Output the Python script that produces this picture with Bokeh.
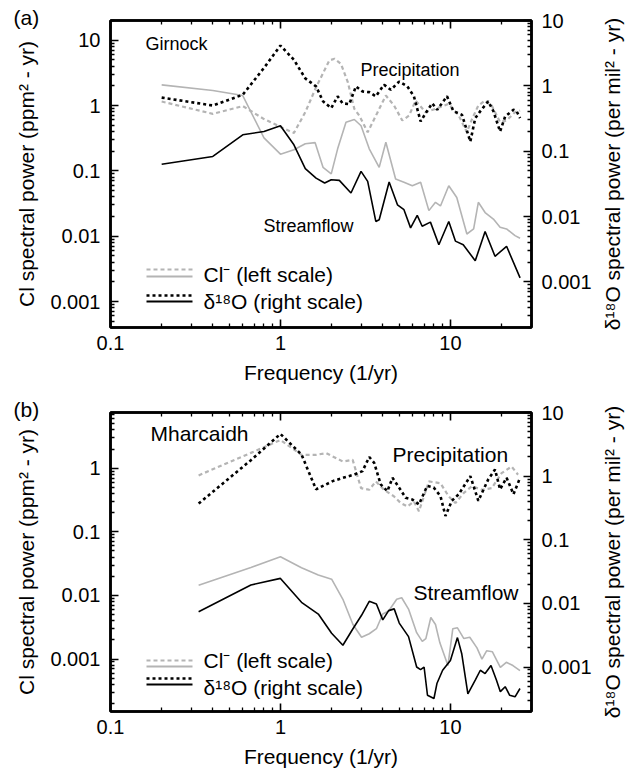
import math
from bokeh.plotting import figure
from bokeh.models import (Range1d, LogAxis, LogScale, FixedTicker, PrintfTickFormatter,
                          Label, Arrow, CustomLabelingPolicy)
from bokeh.layouts import column
from bokeh.embed import file_html
from bokeh.resources import INLINE

# ---------------- data: panel (a) Girnock ----------------
a_cl_precip_f = [0.2, 0.4, 0.6, 0.8, 1.0, 1.2, 1.4, 1.62, 1.94, 2.08, 2.27, 2.49, 2.72, 2.91, 3.26,
                 3.73, 4.17, 4.66, 5.21, 5.71, 6.24, 7.14, 8.17, 9.78, 11.2, 12.5, 13.4, 14.6, 16.0,
                 17.5, 19.6, 21.4, 24.0, 25.7]
a_cl_precip_v = [1.15, 0.745, 0.98, 0.62, 0.47, 0.38, 0.79, 1.9, 4.9, 5.2, 4.35, 2.28, 0.89, 0.70, 0.39,
                 0.79, 1.42, 1.0, 0.59, 0.70, 1.19, 0.79, 0.89, 1.06, 0.70, 0.39, 0.62, 1.0, 1.19,
                 1.0, 0.556, 0.59, 0.79, 0.84]

a_o_precip_f = [0.2, 0.4, 0.6, 0.8, 1.0, 1.2, 1.4, 1.62, 1.78, 1.99, 2.17, 2.32, 2.54, 2.78, 3.04,
                3.33, 3.64, 4.07, 4.46, 4.99, 5.58, 6.10, 6.68, 7.14, 7.81, 8.36, 9.55, 10.4, 11.7,
                13.1, 14.0, 15.0, 16.7, 17.9, 19.6, 21.0, 23.5, 24.5, 25.7]
a_o_precip_v = [0.66, 0.50, 0.73, 1.88, 4.14, 2.5, 1.3, 0.98, 0.58, 0.456, 0.69, 0.54, 0.525, 0.98, 0.82,
                0.80, 0.69, 1.04, 0.87, 1.16, 0.98, 0.69, 0.285, 0.38, 0.54, 0.43, 0.69, 0.41, 0.36,
                0.14, 0.32, 0.41, 0.58, 0.41, 0.20, 0.34, 0.43, 0.41, 0.32]

a_cl_stream_f = [0.2, 0.4, 0.6, 0.8, 1.0, 1.2, 1.4, 1.6, 1.78, 1.99, 2.17, 2.43, 2.72, 2.98, 3.33,
                 3.81, 4.17, 4.76, 5.33, 5.97, 6.68, 7.47, 8.17, 8.74, 9.78, 10.9, 12.5, 13.7, 14.6,
                 16.0, 17.9, 19.6, 21.4, 24.0, 25.7]
a_cl_stream_v = [2.07, 1.7, 1.42, 0.32, 0.18, 0.21, 0.26, 0.27, 0.113, 0.090, 0.217, 0.556, 0.61, 0.49, 0.217,
                 0.113, 0.274, 0.075, 0.067, 0.059, 0.067, 0.0246, 0.033, 0.029, 0.059, 0.039, 0.0108, 0.0129, 0.033,
                 0.023, 0.0183, 0.0137, 0.0129, 0.0102, 0.0093]

a_o_stream_f = [0.2, 0.4, 0.6, 0.8, 1.0, 1.2, 1.4, 1.62, 1.82, 1.99, 2.22, 2.60, 2.98, 3.26, 3.64,
                3.81, 4.36, 4.88, 5.33, 5.83, 6.38, 6.82, 7.63, 8.55, 9.78, 10.7, 11.9, 14.0, 16.0,
                18.3, 21.4, 25.7]
a_o_stream_v = [0.063, 0.083, 0.178, 0.20, 0.245, 0.125, 0.054, 0.0387, 0.0325, 0.0366, 0.0357, 0.0229, 0.049, 0.0345, 0.0084,
                0.0089, 0.0337, 0.0151, 0.0127, 0.0067, 0.0104, 0.0071, 0.0082, 0.0037, 0.0084, 0.0042, 0.0037, 0.0021, 0.0059,
                0.00246, 0.0035, 0.00115]

# ---------------- data: panel (b) Mharcaidh ----------------
b_cl_precip_f = [0.33, 0.67, 1.0, 1.33, 1.62, 1.86, 2.33, 2.66, 2.98, 3.33, 3.64, 4.07, 4.66, 5.10,
                 5.58, 6.10, 6.53, 7.47, 8.74, 9.78, 10.7, 12.0, 13.4, 15.3, 17.5, 20.0, 22.9, 25.0]
b_cl_precip_v = [0.77, 1.74, 2.77, 1.62, 1.62, 1.72, 1.27, 1.35, 0.486, 0.458, 0.62, 0.458, 0.36, 0.283,
                 0.25, 0.30, 0.21, 0.62, 0.58, 0.36, 0.283, 0.41, 0.52, 0.458, 0.486, 0.835, 1.06, 0.79]

b_o_precip_f = [0.33, 0.67, 1.0, 1.33, 1.62, 2.03, 2.33, 2.72, 3.04, 3.33, 3.56, 3.89, 4.26, 4.56,
                4.99, 5.45, 5.97, 6.53, 7.30, 7.98, 8.74, 9.35, 10.2, 11.2, 13.1, 14.6, 16.7, 18.3,
                19.6, 21.4, 23.5, 25.7]
b_o_precip_v = [0.37, 1.78, 4.6, 2.18, 0.62, 0.835, 0.94, 1.06, 1.20, 2.0, 1.62, 0.74, 0.58, 0.94,
                0.66, 0.458, 0.43, 0.36, 0.70, 0.66, 0.486, 0.237, 0.41, 0.52, 1.0, 0.41, 0.89, 1.27,
                0.62, 0.94, 0.52, 0.94]

b_cl_stream_f = [0.33, 0.67, 1.0, 1.33, 1.67, 2.0, 2.33, 2.67, 3.0, 3.33, 3.67, 4.0, 4.33, 4.83,
                 5.17, 5.67, 6.33, 6.83, 7.17, 7.67, 8.17, 8.67, 9.67, 10.33, 11.0, 12.0, 13.0, 14.33,
                 15.33, 16.33, 17.67, 19.67, 21.33, 23.33, 25.67]
b_cl_stream_v = [0.0144, 0.0275, 0.0405, 0.0273, 0.0210, 0.0180, 0.0087, 0.0035, 0.0022, 0.0025, 0.0030, 0.0051, 0.0057, 0.0087,
                 0.0092, 0.0061, 0.0026, 0.0019, 0.0021, 0.0045, 0.0035, 0.0018, 0.00079, 0.0030, 0.0031, 0.0021, 0.0022, 0.0015,
                 0.0010, 0.00135, 0.0013, 0.00074, 0.00089, 0.00079, 0.00066]

b_o_stream_f = [0.33, 0.67, 1.0, 1.33, 1.67, 2.0, 2.33, 2.67, 3.0, 3.33, 3.67, 4.0, 4.33, 4.67,
                5.0, 5.67, 6.33, 6.67, 7.0, 7.33, 8.0, 8.33, 9.0, 10.0, 11.0, 11.67, 12.67, 14.0,
                15.0, 16.0, 17.33, 18.67, 19.67, 21.0, 22.33, 24.0, 25.67]
b_o_stream_v = [0.0074, 0.0195, 0.0247, 0.0104, 0.0068, 0.0034, 0.0022, 0.0040, 0.0065, 0.0108, 0.0098, 0.0055, 0.0077, 0.0082,
                0.0049, 0.0030, 0.0010, 0.00091, 0.0010, 0.00036, 0.00032, 0.00055, 0.00089, 0.00127, 0.0029, 0.0016, 0.00038, 0.00062,
                0.00089, 0.00079, 0.00106, 0.00062, 0.00041, 0.00049, 0.00036, 0.00034, 0.00046]

# tick values
y_major = [0.0001, 0.001, 0.01, 0.1, 1, 10, 100]
x_major = [0.1, 1, 10, 100]
log_minor = [m * 10.0 ** e for e in range(-5, 3) for m in range(2, 10)]

FONT = "Liberation Sans"
GREY = "#b4b4b4"
DASH_GREY = "4 3"
DOT_BLACK = "3 3"

HIDE_ALL = CustomLabelingPolicy(code="""
for (const i of indices) { indices.unset(i) }
return indices
""")


def style_axis(ax, ticks, show_labels=True, standoff=10, label_standoff=10):
    ax.ticker = FixedTicker(ticks=ticks, minor_ticks=log_minor)
    ax.formatter = PrintfTickFormatter(format="%g")
    ax.major_tick_in = 8
    ax.major_tick_out = 0
    ax.minor_tick_in = 4
    ax.minor_tick_out = 0
    ax.axis_line_width = 2.5
    ax.axis_line_color = "black"
    ax.major_tick_line_width = 1.6
    ax.minor_tick_line_width = 1.3
    ax.major_tick_line_color = "black"
    ax.minor_tick_line_color = "black"
    ax.major_label_text_font = FONT
    ax.major_label_text_color = "black"
    ax.major_label_standoff = standoff
    ax.axis_label_text_font = FONT
    ax.axis_label_text_font_style = "normal"
    ax.axis_label_text_font_size = "21px"
    ax.axis_label_text_color = "black"
    ax.axis_label_standoff = label_standoff
    if show_labels:
        ax.major_label_text_font_size = "20px"
    else:
        ax.major_label_text_font_size = "1px"
        ax.major_label_standoff = 0
        ax.major_label_policy = HIDE_ALL


def make_panel(height, top, bottom, yl, yr, data, tag, tag_lh, texts, ann_size, leg):
    p = figure(width=636, height=height, x_axis_type="log", y_axis_type="log",
               x_range=Range1d(0.1, 30), y_range=Range1d(*yl),
               output_backend="svg", toolbar_location=None,
               min_border_left=110, min_border_right=105,
               min_border_top=top, min_border_bottom=bottom)
    p.extra_y_ranges = {"r": Range1d(*yr)}
    p.extra_y_scales = {"r": LogScale()}
    p.xgrid.visible = False
    p.ygrid.visible = False
    p.outline_line_color = "black"
    p.outline_line_width = 2.5
    p.background_fill_color = "white"
    p.border_fill_color = "white"

    # panel tag as title, pulled down beside the frame's top edge
    p.title.text = tag
    p.title.align = "left"
    p.title.offset = -97
    p.title.standoff = -24
    p.title.text_font = FONT
    p.title.text_font_size = "21px"
    p.title.text_font_style = "normal"
    p.title.text_color = "black"
    if "text_line_height" in p.title.properties():
        p.title.text_line_height = tag_lh

    right = LogAxis(y_range_name="r")
    p.add_layout(right, "right")
    topax = LogAxis()
    p.add_layout(topax, "above")

    bottom_ax = p.below[0]
    left_ax = p.left[0]
    style_axis(bottom_ax, x_major, True, standoff=8, label_standoff=8)
    style_axis(left_ax, y_major, True, standoff=10, label_standoff=9)
    style_axis(right, y_major, True, standoff=10, label_standoff=14)
    style_axis(topax, x_major, False)
    bottom_ax.axis_label = "Frequency (1/yr)"
    left_ax.axis_label = "Cl spectral power (ppm\u00b2 - yr)"

    # right-hand axis title, reading bottom-to-top like the left one
    frame_mid = (top + (height - bottom)) / 2
    p.add_layout(Label(x=612, y=frame_mid, x_units="canvas", y_units="canvas",
                       text="\u03b4\u00b9\u2078O spectral power (per mil\u00b2 - yr)",
                       angle=math.pi / 2, text_align="center", text_baseline="middle",
                       text_font=FONT, text_font_size="21px", text_color="black"), "right")

    (clp_f, clp_v), (op_f, op_v), (cls_f, cls_v), (os_f, os_v) = data
    p.line(clp_f, clp_v, line_color=GREY, line_width=2.2, line_dash=DASH_GREY)
    p.line(cls_f, cls_v, line_color=GREY, line_width=1.6)
    p.line(op_f, op_v, y_range_name="r", line_color="black", line_width=2.6, line_dash=DOT_BLACK)
    p.line(os_f, os_v, y_range_name="r", line_color="black", line_width=1.6)

    for (tx, ty, t) in texts:
        p.add_layout(Label(x=tx, y=ty, x_units="screen", y_units="screen", text=t,
                           text_font=FONT, text_font_size=ann_size, text_baseline="middle",
                           text_align="left", text_color="black"))
    # legend (two line samples per entry)
    (gd, gs, bd, bs, t1, t2) = leg
    for (yy, col, w, dash) in [(gd, GREY, 2.2, DASH_GREY), (gs, GREY, 2.2, "solid"),
                               (bd, "black", 2.6, DOT_BLACK), (bs, "black", 2.0, "solid")]:
        p.add_layout(Arrow(x_start=36, y_start=yy, x_end=82, y_end=yy,
                           start_units="screen", end_units="screen", end=None,
                           line_color=col, line_width=w, line_dash=dash))
    p.add_layout(Label(x=93, y=t1, x_units="screen", y_units="screen", text="Cl\u207b (left scale)",
                       text_font=FONT, text_font_size="21px", text_baseline="middle", text_color="black"))
    p.add_layout(Label(x=93, y=t2, x_units="screen", y_units="screen", text="\u03b4\u00b9\u2078O (right scale)",
                       text_font=FONT, text_font_size="21px", text_baseline="middle", text_color="black"))
    return p


pa = make_panel(398, 20, 71, (4e-4, 20), (2e-4, 10),
                [(a_cl_precip_f, a_cl_precip_v), (a_o_precip_f, a_o_precip_v),
                 (a_cl_stream_f, a_cl_stream_v), (a_o_stream_f, a_o_stream_v)],
                "(a)", 0.8,
                [(35, 284, "Girnock"), (250, 258, "Precipitation"), (153, 102, "Streamflow")],
                "18px", (58, 51, 32, 26, 53.5, 26))

pb = make_panel(375, 14, 62, (1.5e-4, 7.5), (2e-4, 10),
                [(b_cl_precip_f, b_cl_precip_v), (b_o_precip_f, b_o_precip_v),
                 (b_cl_stream_f, b_cl_stream_v), (b_o_stream_f, b_o_stream_v)],
                "(b)", 0.4,
                [(40, 278, "Mharcaidh"), (282, 257, "Precipitation"), (303, 119, "Streamflow")],
                "21px", (51, 45, 33, 27, 51, 24))

layout = column(pa, pb)
open("out.html", "w").write(file_html(layout, INLINE))
